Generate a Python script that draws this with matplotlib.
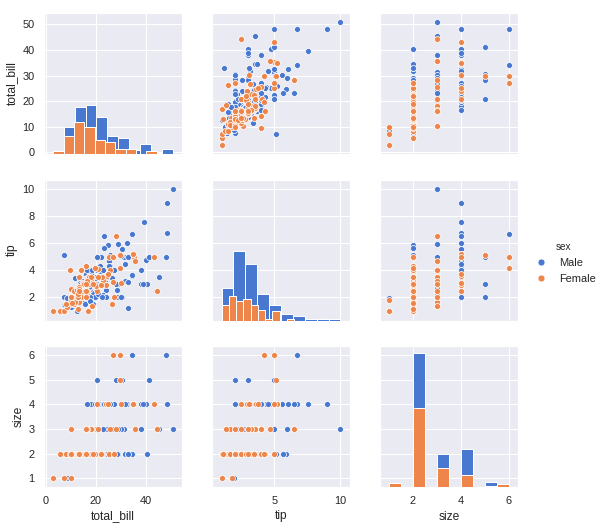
import numpy as np
import matplotlib
matplotlib.use("Agg")
import matplotlib.pyplot as plt
from matplotlib.lines import Line2D
import seaborn as sns

# tips data, one entry per row
total_bill = [16.99, 10.34, 21.01, 23.68, 24.59, 25.29, 8.77, 26.88, 15.04, 14.78,
              10.27, 35.26, 15.42, 18.43, 14.83, 21.58, 10.33, 16.29, 16.97, 20.65,
              17.92, 20.29, 15.77, 39.42, 19.82, 17.81, 13.37, 12.69, 21.7, 19.65,
              9.55, 18.35, 15.06, 20.69, 17.78, 24.06, 16.31, 16.93, 18.69, 31.27,
              16.04, 17.46, 13.94, 9.68, 30.4, 18.29, 22.23, 32.4, 28.55, 18.04,
              12.54, 10.29, 34.81, 9.94, 25.56, 19.49, 38.01, 26.41, 11.24, 48.27,
              20.29, 13.81, 11.02, 18.29, 17.59, 20.08, 16.45, 3.07, 20.23, 15.01,
              12.02, 17.07, 26.86, 25.28, 14.73, 10.51, 17.92, 27.2, 22.76, 17.29,
              19.44, 16.66, 10.07, 32.68, 15.98, 34.83, 13.03, 18.28, 24.71, 21.16,
              28.97, 22.49, 5.75, 16.32, 22.75, 40.17, 27.28, 12.03, 21.01, 12.46,
              11.35, 15.38, 44.3, 22.42, 20.92, 15.36, 20.49, 25.21, 18.24, 14.31,
              14.0, 7.25, 38.07, 23.95, 25.71, 17.31, 29.93, 10.65, 12.43, 24.08,
              11.69, 13.42, 14.26, 15.95, 12.48, 29.8, 8.52, 14.52, 11.38, 22.82,
              19.08, 20.27, 11.17, 12.26, 18.26, 8.51, 10.33, 14.15, 16.0, 13.16,
              17.47, 34.3, 41.19, 27.05, 16.43, 8.35, 18.64, 11.87, 9.78, 7.51,
              14.07, 13.13, 17.26, 24.55, 19.77, 29.85, 48.17, 25.0, 13.39, 16.49,
              21.5, 12.66, 16.21, 13.81, 17.51, 24.52, 20.76, 31.71, 10.59, 10.63,
              50.81, 15.81, 7.25, 31.85, 16.82, 32.9, 17.89, 14.48, 9.6, 34.63,
              34.65, 23.33, 45.35, 23.17, 40.55, 20.69, 20.9, 30.46, 18.15, 23.1,
              15.69, 19.81, 28.44, 15.48, 16.58, 7.56, 10.34, 43.11, 13.0, 13.51,
              18.71, 12.74, 13.0, 16.4, 20.53, 16.47, 26.59, 38.73, 24.27, 12.76,
              30.06, 25.89, 48.33, 13.27, 28.17, 12.9, 28.15, 11.59, 7.74, 30.14,
              12.16, 13.42, 8.58, 15.98, 13.42, 16.27, 10.09, 20.45, 13.28, 22.12,
              24.01, 15.69, 11.61, 10.77, 15.53, 10.07, 12.6, 32.83, 35.83, 29.03,
              27.18, 22.67, 17.82, 18.78]
tip = [1.01, 1.66, 3.5, 3.31, 3.61, 4.71, 2.0, 3.12, 1.96, 3.23,
       1.71, 5.0, 1.57, 3.0, 3.02, 3.92, 1.67, 3.71, 3.5, 3.35,
       4.08, 2.75, 2.23, 7.58, 3.18, 2.34, 2.0, 2.0, 4.3, 3.0,
       1.45, 2.5, 3.0, 2.45, 3.27, 3.6, 2.0, 3.07, 2.31, 5.0,
       2.24, 2.54, 3.06, 1.32, 5.6, 3.0, 5.0, 6.0, 2.05, 3.0,
       2.5, 2.6, 5.2, 1.56, 4.34, 3.51, 3.0, 1.5, 1.76, 6.73,
       3.21, 2.0, 1.98, 3.76, 2.64, 3.15, 2.47, 1.0, 2.01, 2.09,
       1.97, 3.0, 3.14, 5.0, 2.2, 1.25, 3.08, 4.0, 3.0, 2.71,
       3.0, 3.4, 1.83, 5.0, 2.03, 5.17, 2.0, 4.0, 5.85, 3.0,
       3.0, 3.5, 1.0, 4.3, 3.25, 4.73, 4.0, 1.5, 3.0, 1.5,
       2.5, 3.0, 2.5, 3.48, 4.08, 1.64, 4.06, 4.29, 3.76, 4.0,
       3.0, 1.0, 4.0, 2.55, 4.0, 3.5, 5.07, 1.5, 1.8, 2.92,
       2.31, 1.68, 2.5, 2.0, 2.52, 4.2, 1.48, 2.0, 2.0, 2.18,
       1.5, 2.83, 1.5, 2.0, 3.25, 1.25, 2.0, 2.0, 2.0, 2.75,
       3.5, 6.7, 5.0, 5.0, 2.3, 1.5, 1.36, 1.63, 1.73, 2.0,
       2.5, 2.0, 2.74, 2.0, 2.0, 5.14, 5.0, 3.75, 2.61, 2.0,
       3.5, 2.5, 2.0, 2.0, 3.0, 3.48, 2.24, 4.5, 1.61, 2.0,
       10.0, 3.16, 5.15, 3.18, 4.0, 3.11, 2.0, 2.0, 4.0, 3.55,
       3.68, 5.65, 3.5, 6.5, 3.0, 5.0, 3.5, 2.0, 3.5, 4.0,
       1.5, 4.19, 2.56, 2.02, 4.0, 1.44, 2.0, 5.0, 2.0, 2.0,
       4.0, 2.01, 2.0, 2.5, 4.0, 3.23, 3.41, 3.0, 2.03, 2.23,
       2.0, 5.16, 9.0, 2.5, 6.5, 1.1, 3.0, 1.5, 1.44, 3.09,
       2.2, 3.48, 1.92, 3.0, 1.58, 2.5, 2.0, 3.0, 2.72, 2.88,
       2.0, 3.0, 3.39, 1.47, 3.0, 1.25, 1.0, 1.17, 4.67, 5.92,
       2.0, 2.0, 1.75, 3.0]
sex = ["Female", "Male", "Male", "Male", "Female", "Male", "Male", "Male", "Male", "Male",
       "Male", "Female", "Male", "Male", "Female", "Male", "Female", "Male", "Female", "Male",
       "Male", "Female", "Female", "Male", "Male", "Male", "Male", "Male", "Male", "Female",
       "Male", "Male", "Female", "Female", "Male", "Male", "Male", "Female", "Male", "Male",
       "Male", "Male", "Male", "Male", "Male", "Male", "Male", "Male", "Male", "Male",
       "Male", "Female", "Female", "Male", "Male", "Male", "Male", "Female", "Male", "Male",
       "Male", "Male", "Male", "Male", "Male", "Male", "Female", "Female", "Male", "Male",
       "Male", "Female", "Female", "Female", "Female", "Male", "Male", "Male", "Male", "Male",
       "Male", "Male", "Female", "Male", "Male", "Female", "Male", "Male", "Male", "Male",
       "Male", "Male", "Female", "Female", "Female", "Male", "Male", "Male", "Male", "Male",
       "Female", "Female", "Female", "Female", "Female", "Male", "Male", "Male", "Male", "Female",
       "Male", "Female", "Male", "Male", "Female", "Female", "Male", "Female", "Female", "Female",
       "Male", "Female", "Male", "Male", "Female", "Female", "Male", "Female", "Female", "Male",
       "Male", "Female", "Female", "Female", "Female", "Female", "Female", "Female", "Male", "Female",
       "Female", "Male", "Male", "Female", "Female", "Female", "Female", "Female", "Male", "Male",
       "Male", "Male", "Male", "Male", "Male", "Female", "Male", "Female", "Female", "Male",
       "Male", "Male", "Female", "Male", "Female", "Male", "Male", "Male", "Female", "Female",
       "Male", "Male", "Male", "Male", "Male", "Male", "Male", "Male", "Female", "Male",
       "Male", "Male", "Male", "Male", "Male", "Male", "Female", "Male", "Female", "Male",
       "Male", "Female", "Male", "Male", "Male", "Male", "Male", "Female", "Female", "Male",
       "Male", "Female", "Female", "Female", "Male", "Female", "Male", "Male", "Male", "Female",
       "Male", "Male", "Male", "Female", "Female", "Female", "Male", "Male", "Male", "Female",
       "Male", "Female", "Male", "Female", "Male", "Female", "Female", "Male", "Male", "Female",
       "Male", "Male", "Male", "Male", "Male", "Male", "Male", "Male", "Female", "Male",
       "Female", "Male", "Male", "Female"]
size = [2, 3, 3, 2, 4, 4, 2, 4, 2, 2,
        2, 4, 2, 4, 2, 2, 3, 3, 3, 3,
        2, 2, 2, 4, 2, 4, 2, 2, 2, 2,
        2, 4, 2, 4, 2, 3, 3, 3, 3, 3,
        3, 2, 2, 2, 4, 2, 2, 4, 3, 2,
        2, 2, 4, 2, 4, 2, 4, 2, 2, 4,
        2, 2, 2, 4, 3, 3, 2, 1, 2, 2,
        2, 3, 2, 2, 2, 2, 2, 4, 2, 2,
        2, 2, 1, 2, 2, 4, 2, 2, 2, 2,
        2, 2, 2, 2, 2, 4, 2, 2, 2, 2,
        2, 2, 3, 2, 2, 2, 2, 2, 2, 2,
        2, 1, 3, 2, 3, 2, 4, 2, 2, 4,
        2, 2, 2, 2, 2, 6, 2, 2, 2, 3,
        2, 2, 2, 2, 2, 2, 2, 2, 2, 2,
        2, 6, 5, 6, 2, 2, 3, 2, 2, 2,
        2, 2, 3, 4, 4, 5, 6, 4, 2, 4,
        4, 2, 3, 2, 2, 3, 2, 4, 2, 2,
        3, 2, 2, 2, 2, 2, 2, 2, 2, 2,
        4, 2, 3, 4, 2, 5, 3, 5, 3, 3,
        2, 2, 2, 2, 2, 2, 2, 4, 2, 2,
        3, 2, 2, 2, 4, 3, 3, 4, 2, 2,
        3, 4, 4, 2, 3, 2, 5, 2, 2, 4,
        2, 2, 1, 3, 2, 2, 2, 4, 2, 2,
        4, 3, 2, 2, 2, 2, 2, 2, 3, 3,
        2, 2, 2, 2]

variables = ["total_bill", "tip", "size"]
hue_names = ["Male", "Female"]
palette = ["#4878d0", "#ee854a"]
limits = [(-0.6, 54.4), (0.28, 10.72), (0.64, 6.38)]
tick_sets = [[0, 10, 20, 30, 40, 50], [2, 4, 6, 8, 10], [1, 2, 3, 4, 5, 6]]
xtick_sets = [[0, 20, 40], [5, 10], [2, 4, 6]]

sns.set_theme(style="darkgrid", context="notebook")
plt.rcParams["font.family"] = ["Liberation Sans", "DejaVu Sans"]

data = {"total_bill": np.array(total_bill), "tip": np.array(tip), "size": np.array(size)}
sex = np.array(sex)

W, H = 601, 528
fig, axes = plt.subplots(3, 3, sharex="col", sharey="row", figsize=(W / 72, H / 72), dpi=72)

# place axes to match the grid
for i in range(3):
    for j in range(3):
        left = 44 + 168 * j
        top = 13 + 166.5 * i
        axes[i, j].set_position([left / W, 1 - (top + 141) / H, 138 / W, 141 / H])

diag_axes = []
for i, yvar in enumerate(variables):
    for j, xvar in enumerate(variables):
        ax = axes[i, j]
        if i == j:
            dax = ax.twinx()
            dax.set_position(ax.get_position())
            dax.set_axis_off()
            if diag_axes:
                dax.sharey(diag_axes[0])
            diag_axes.append(dax)
            for k, name in enumerate(hue_names):
                vals = data[xvar][sex == name]
                dax.hist(vals, bins=10, color=palette[k], edgecolor="white", linewidth=1)
        else:
            for k, name in enumerate(hue_names):
                m = sex == name
                ax.scatter(data[xvar][m], data[yvar][m], s=36, color=palette[k],
                           edgecolor="white", linewidth=0.75)

for j, var in enumerate(variables):
    axes[2, j].set_xlim(limits[j])
    axes[2, j].set_xticks(xtick_sets[j])
    axes[2, j].set_xlabel(var, fontsize=12)
for i, var in enumerate(variables):
    axes[i, 0].set_ylim(limits[i])
    axes[i, 0].set_yticks(tick_sets[i])
    axes[i, 0].set_ylabel(var, fontsize=12)
for ax in axes.flat:
    ax.tick_params(labelsize=11, left=False, right=False, bottom=False, top=False)

handles = [Line2D([], [], marker="o", linestyle="", markersize=7, markerfacecolor=c,
                  markeredgecolor="white", markeredgewidth=0.75) for c in palette]
fig.legend(handles, hue_names, title="sex", loc="center", bbox_to_anchor=(563 / W, 1 - 263 / H),
           frameon=False, fontsize=11, title_fontsize=10, handletextpad=0.6)

fig.savefig("out.png", dpi=72)
